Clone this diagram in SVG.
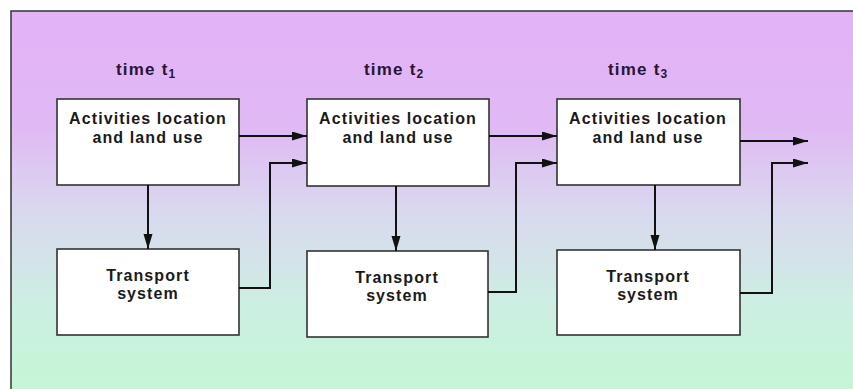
<svg xmlns="http://www.w3.org/2000/svg" width="853" height="389" viewBox="0 0 853 389">
<defs>
<linearGradient id="bg" x1="0" y1="0" x2="0" y2="1">
<stop offset="0" stop-color="#e3b2f7"/>
<stop offset="0.3" stop-color="#e0b9f4"/>
<stop offset="0.52" stop-color="#d9d9ee"/>
<stop offset="0.75" stop-color="#cdeee2"/>
<stop offset="1" stop-color="#c2f8d5"/>
</linearGradient>
<marker id="ah" markerUnits="userSpaceOnUse" markerWidth="16" markerHeight="10" refX="15" refY="4.5" orient="auto">
<path d="M0,0 L15,4.5 L0,9 z" fill="#111"/>
</marker>
<style>
.box{fill:#fff;stroke:#333;stroke-width:1.6}
.lbl{font-family:"Liberation Sans",Arial,sans-serif;font-weight:bold;font-size:16px;letter-spacing:1.1px;fill:#1a1a1a;text-anchor:middle}
.ttl{font-family:"Liberation Sans",Arial,sans-serif;font-weight:bold;font-size:17px;letter-spacing:1.2px;fill:#2a1535}
.sub{font-size:12px}
.con{fill:none;stroke:#111;stroke-width:2}
</style>
</defs>
<rect x="0" y="0" width="853" height="389" fill="#fff"/>
<rect x="11" y="11" width="850" height="390" fill="url(#bg)" stroke="#333" stroke-width="1.5"/>
<g id="title1"><text class="ttl" x="116" y="75">time t<tspan class="sub" dy="3">1</tspan></text></g>
<g id="title2"><text class="ttl" x="364" y="75">time t<tspan class="sub" dy="3">2</tspan></text></g>
<g id="title3"><text class="ttl" x="608" y="75">time t<tspan class="sub" dy="3">3</tspan></text></g>
<g id="act1"><rect class="box" x="57" y="99" width="182" height="86"/><text class="lbl" x="148" y="124">Activities location</text><text class="lbl" x="148" y="143">and land use</text></g>
<g id="act2"><rect class="box" x="307" y="99" width="182" height="87"/><text class="lbl" x="398" y="124">Activities location</text><text class="lbl" x="398" y="143">and land use</text></g>
<g id="act3"><rect class="box" x="557" y="99" width="183" height="86"/><text class="lbl" x="648" y="124">Activities location</text><text class="lbl" x="648" y="143">and land use</text></g>
<g id="trans1"><rect class="box" x="57" y="249" width="182" height="86"/><text class="lbl" x="148" y="281">Transport</text><text class="lbl" x="148" y="299">system</text></g>
<g id="trans2"><rect class="box" x="307" y="251" width="181" height="86"/><text class="lbl" x="397" y="283">Transport</text><text class="lbl" x="397" y="301">system</text></g>
<g id="trans3"><rect class="box" x="557" y="250" width="183" height="85"/><text class="lbl" x="648" y="282">Transport</text><text class="lbl" x="648" y="300">system</text></g>
<g id="connectors">
<path class="con" d="M148,185 V249" marker-end="url(#ah)"/>
<path class="con" d="M396,186 V251" marker-end="url(#ah)"/>
<path class="con" d="M655,185 V250" marker-end="url(#ah)"/>
<path class="con" d="M239,136 H307" marker-end="url(#ah)"/>
<path class="con" d="M489,136 H557" marker-end="url(#ah)"/>
<path class="con" d="M740,141 H808" marker-end="url(#ah)"/>
<path class="con" d="M239,288 H270 V163 H307" marker-end="url(#ah)"/>
<path class="con" d="M488,292 H516 V163 H557" marker-end="url(#ah)"/>
<path class="con" d="M740,293 H772 V163 H808" marker-end="url(#ah)"/>
</g>
</svg>
